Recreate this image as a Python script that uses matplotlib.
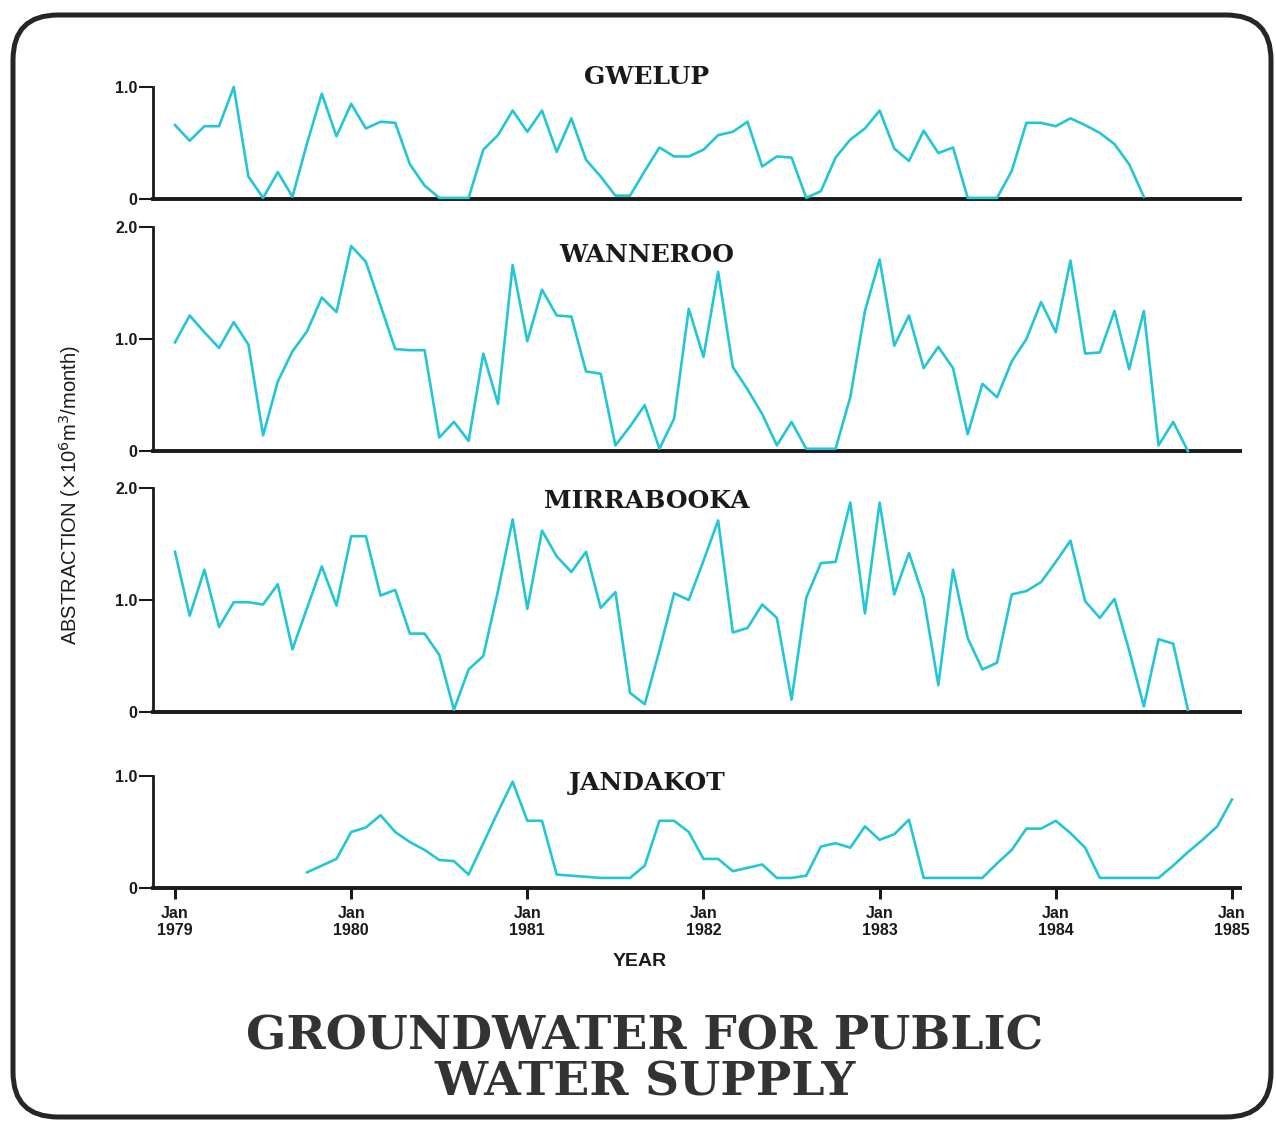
# plot.py

import numpy as np
import matplotlib.pyplot as plt
from matplotlib.patches import FancyBboxPatch

# Monthly abstraction (x10^6 m3/month), month 0 = Jan 1979
GWELUP = [0.66, 0.52, 0.65, 0.65, 1.0, 0.2, 0.01, 0.24, 0.02, 0.5,
          0.94, 0.56, 0.85, 0.63, 0.69, 0.68, 0.31, 0.12, 0.01, 0.01,
          0.01, 0.44, 0.57, 0.79, 0.6, 0.79, 0.42, 0.72, 0.35, 0.2,
          0.03, 0.03, 0.25, 0.46, 0.38, 0.38, 0.44, 0.57, 0.6, 0.69,
          0.29, 0.38, 0.37, 0.01, 0.07, 0.37, 0.53, 0.63, 0.79, 0.45,
          0.34, 0.61, 0.41, 0.46, 0.01, 0.01, 0.01, 0.25, 0.68, 0.68,
          0.65, 0.72, 0.66, 0.59, 0.49, 0.31, 0.02]
WANNEROO = [0.97, 1.21, 1.06, 0.92, 1.15, 0.95, 0.14, 0.62, 0.89, 1.07,
            1.37, 1.24, 1.83, 1.69, 1.30, 0.91, 0.9, 0.9, 0.12, 0.26,
            0.09, 0.87, 0.42, 1.66, 0.98, 1.44, 1.21, 1.2, 0.71, 0.69,
            0.05, 0.22, 0.41, 0.02, 0.29, 1.27, 0.84, 1.6, 0.75, 0.55,
            0.33, 0.05, 0.26, 0.02, 0.02, 0.02, 0.48, 1.25, 1.71, 0.94,
            1.21, 0.74, 0.93, 0.74, 0.15, 0.6, 0.48, 0.8, 1.0, 1.33,
            1.06, 1.70, 0.87, 0.88, 1.25, 0.73, 1.25, 0.05, 0.26, 0.0]
MIRRABOOKA = [1.43, 0.86, 1.27, 0.76, 0.98, 0.98, 0.96, 1.14, 0.56, 0.93,
              1.3, 0.95, 1.57, 1.57, 1.04, 1.09, 0.70, 0.70, 0.51, 0.02,
              0.38, 0.5, 1.08, 1.72, 0.92, 1.62, 1.39, 1.25, 1.43, 0.93,
              1.07, 0.17, 0.07, 0.55, 1.06, 1.0, 1.35, 1.71, 0.71, 0.75,
              0.96, 0.84, 0.11, 1.02, 1.33, 1.34, 1.87, 0.88, 1.87, 1.05,
              1.42, 1.02, 0.24, 1.27, 0.66, 0.38, 0.44, 1.05, 1.08, 1.16,
              1.34, 1.53, 0.99, 0.84, 1.01, 0.55, 0.05, 0.65, 0.61, 0.02]
JANDAKOT_START = 9  # Oct 1979
JANDAKOT = [0.14, 0.2, 0.26, 0.5, 0.54, 0.65, 0.5, 0.41, 0.34, 0.25,
            0.24, 0.12, 0.4, 0.68, 0.95, 0.6, 0.6, 0.12, 0.11, 0.1,
            0.09, 0.09, 0.09, 0.2, 0.6, 0.6, 0.5, 0.26, 0.26, 0.15,
            0.18, 0.21, 0.09, 0.09, 0.11, 0.37, 0.4, 0.36, 0.55, 0.43,
            0.48, 0.61, 0.09, 0.09, 0.09, 0.09, 0.09, 0.22, 0.34, 0.53,
            0.53, 0.6, 0.49, 0.36, 0.09, 0.09, 0.09, 0.09, 0.09, 0.2,
            0.32, 0.43, 0.55, 0.79]
YEARS = [1979, 1980, 1981, 1982, 1983, 1984, 1985]

LINE = "#22c6d6"
INK = "#1a1a1a"
W, H = 1276, 1121


def px_axes(fig, top, bottom, left=153, right=1240):
    return fig.add_axes([left / W, 1 - bottom / H, (right - left) / W, (bottom - top) / H])


def draw_panel(ax, values, ymax, start=0, last=False):
    x = np.arange(start, start + len(values))
    ax.plot(x, values, color=LINE, lw=1.9, clip_on=False, zorder=3)
    ax.set_xlim(-1.5, 72.55)
    ax.set_ylim(0, ymax)
    for s in ("top", "right"):
        ax.spines[s].set_visible(False)
    ax.spines["left"].set_linewidth(2.0)
    ax.spines["bottom"].set_linewidth(2.8)
    ax.spines["left"].set_color(INK)
    ax.spines["bottom"].set_color(INK)
    ticks = np.arange(0, ymax + 0.01, 1.0)
    ax.set_yticks(ticks)
    ax.set_yticklabels(["0" if t == 0 else f"{t:.1f}" for t in ticks],
                       fontsize=11.5, fontweight="bold", family="Liberation Sans")
    ax.tick_params(axis="y", length=10, width=1.5, pad=1, color=INK, labelcolor=INK)
    if last:
        ax.set_xticks([12 * i for i in range(len(YEARS))])
        ax.set_xticklabels([f"Jan\n{y}" for y in YEARS], fontsize=11.5,
                           fontweight="bold", family="Liberation Sans")
        ax.tick_params(axis="x", length=8, width=2.2, pad=5, color=INK, labelcolor=INK)
    else:
        ax.set_xticks([])
    ax.patch.set_visible(False)


def main():
    fig = plt.figure(figsize=(W / 100, H / 100), dpi=100)

    border = FancyBboxPatch((0.13, 0.04), 12.58, 11.02,
                            boxstyle="round,pad=0,rounding_size=0.45",
                            transform=fig.dpi_scale_trans, fill=False,
                            ec="#262626", lw=3.6)
    fig.patches.append(border)

    ax1 = px_axes(fig, 87, 199)
    ax2 = px_axes(fig, 227, 451)
    ax3 = px_axes(fig, 488, 712)
    ax4 = px_axes(fig, 776, 888)
    draw_panel(ax1, GWELUP, 1.0)
    draw_panel(ax2, WANNEROO, 2.0)
    draw_panel(ax3, MIRRABOOKA, 2.0)
    draw_panel(ax4, JANDAKOT, 1.0, start=JANDAKOT_START, last=True)

    serif = dict(family="DejaVu Serif", fontweight="bold", color=INK,
                 ha="center", va="center")
    for name, y in [("GWELUP", 77), ("WANNEROO", 255),
                    ("MIRRABOOKA", 501), ("JANDAKOT", 783)]:
        fig.text(647 / W, 1 - y / H, name, fontsize=18, **serif)

    fig.text(70 / W, 1 - 495 / H, r"ABSTRACTION ($\times$10$^6$m$^3$/month)",
             rotation=90, ha="center", va="center", fontsize=14.5,
             family="Liberation Sans", color=INK)
    fig.text(640 / W, 1 - 962 / H, "YEAR", ha="center", va="center",
             fontsize=14, fontweight="bold", family="Liberation Sans", color=INK)

    fig.text(645 / W, 1 - 1060 / H, "GROUNDWATER FOR PUBLIC\nWATER SUPPLY",
             fontsize=34, linespacing=1.0, family="DejaVu Serif",
             fontweight="bold", color="#333333", ha="center", va="center")

    fig.savefig("out.png", dpi=100)


main()
